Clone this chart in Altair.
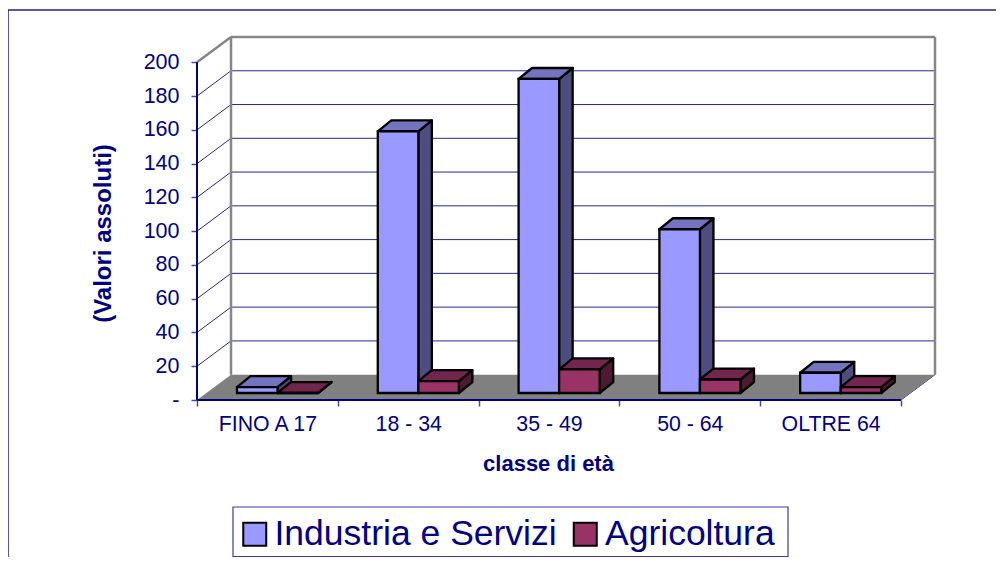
import altair as alt
import pandas as pd

categories = ["FINO A 17", "18 - 34", "35 - 49", "50 - 64", "OLTRE 64"]
series_names = ["Industria e Servizi", "Agricoltura"]
industria = [3.5, 155, 186, 97, 12]
agricoltura = [0, 7, 14, 8, 3.5]
y_ticks = list(range(0, 201, 20))

NAVY = "#000080"
FONT = "Liberation Sans"
GRAY = "#868686"
FRONT = {"Industria e Servizi": "#9999FF", "Agricoltura": "#993366"}
TOP = {"Industria e Servizi": "#7373C0", "Agricoltura": "#73264D"}
SIDE = {"Industria e Servizi": "#4D4D80", "Agricoltura": "#4D1A33"}

# Depth of the 3-D box, in axis units
WALL_DX, WALL_DY = 0.2415, 15.0
BAR_DX, BAR_DY = 0.096, 6.5
BASE_DY = 4.14
BAR_W = 0.288
BAR_X0 = 0.284

x_max = 5 + WALL_DX
y_max = 200 + WALL_DY
xs = alt.Scale(domain=[0, x_max], nice=False, zero=False)
ys = alt.Scale(domain=[0, y_max], nice=False, zero=False)

front_rows, top_rows, side_rows = [], [], []
for s, (name, vals) in enumerate(zip(series_names, [industria, agricoltura])):
    for i, v in enumerate(vals):
        x0 = i + BAR_X0 + s * BAR_W
        x1 = x0 + BAR_W
        top = BASE_DY + v
        front_rows.append(dict(series=name, x=x0, x2=x1, y=BASE_DY, y2=top))
        fid = f"{name}-{i}"
        top_rows += [
            dict(id=fid, fill=TOP[name], y=top, x=x0, x2=x1),
            dict(id=fid, fill=TOP[name], y=top + BAR_DY, x=x0 + BAR_DX, x2=x1 + BAR_DX),
        ]
        side_rows += [
            dict(id=fid, fill=SIDE[name], x=x1, y=BASE_DY, y2=top),
            dict(id=fid, fill=SIDE[name], x=x1 + BAR_DX, y=BASE_DY + BAR_DY, y2=top + BAR_DY),
        ]

grid_rows = []
for t in y_ticks[1:-1]:
    grid_rows.append(dict(x=0, x2=WALL_DX, y=t, y2=t + WALL_DY))
    grid_rows.append(dict(x=WALL_DX, x2=x_max, y=t + WALL_DY, y2=t + WALL_DY))
grid_rows.append(dict(x=5, x2=x_max, y=0, y2=WALL_DY))

wall_rows = [
    dict(x=0, x2=WALL_DX, y=200, y2=y_max),
    dict(x=WALL_DX, x2=x_max, y=y_max, y2=y_max),
    dict(x=WALL_DX, x2=WALL_DX, y=WALL_DY, y2=y_max),
    dict(x=x_max, x2=x_max, y=WALL_DY, y2=y_max),
]
front_axis_rows = [
    dict(x=0, x2=5, y=0, y2=0),
    dict(x=0, x2=0, y=0, y2=200),
]
floor_rows = [
    dict(y=0, x=0, x2=5),
    dict(y=WALL_DY, x=WALL_DX, x2=x_max),
]

x_ticks = [v / 2 for v in range(0, 11)]
label_expr = "datum.value % 1 === 0 ? '' : " + str(categories) + "[floor(datum.value)]"
x_axis = alt.Axis(
    values=x_ticks, labelExpr=label_expr, title="classe di età", grid=False, domain=False,
    tickColor="#4a4aa0", tickSize=6, tickWidth=1.5,
    tickOpacity={"condition": {"test": "datum.value % 1 === 0", "value": 1}, "value": 0},
    labelFont=FONT, labelFontSize=21.3, labelColor=NAVY, labelPadding=7, labelOverlap=False,
    labelFlush=False,
    titleFont=FONT, titleFontSize=22, titleFontWeight="bold", titleColor=NAVY,
    titleX=351, titleY=70, titleBaseline="alphabetic",
)
y_axis = alt.Axis(
    values=y_ticks, labelExpr="datum.value === 0 ? '-' : datum.label", title="(Valori assoluti)",
    grid=False, domain=False, tickColor="#4a4aa0", tickSize=6, tickWidth=1.5,
    labelFont=FONT, labelFontSize=21.5, labelColor=NAVY, labelPadding=12,
    titleFont=FONT, titleFontSize=24, titleFontWeight="bold", titleColor=NAVY,
    titleX=-87, titleY=196, titleAngle=270, titleBaseline="alphabetic",
)


def X(**kw):
    return alt.X("x:Q", scale=xs, axis=x_axis, **kw)


def Y(**kw):
    return alt.Y("y:Q", scale=ys, axis=y_axis, **kw)


def rules(rows, color, width, opacity=1):
    return alt.Chart(pd.DataFrame(rows)).mark_rule(color=color, strokeWidth=width, opacity=opacity).encode(
        x=X(), x2="x2:Q", y=Y(), y2="y2:Q",
    )


grid = rules(grid_rows, NAVY, 1, 0.85)
walls = rules(wall_rows, GRAY, 2.5)
front_axes = rules(front_axis_rows, NAVY, 2)

floor = alt.Chart(pd.DataFrame(floor_rows)).mark_area(color="#808080", orient="horizontal").encode(
    x=X(stack=None), x2="x2:Q", y=Y(),
)

side = alt.Chart(pd.DataFrame(side_rows)).mark_area(stroke="black", strokeWidth=2.3, strokeJoin="round").encode(
    x=X(), y=Y(stack=None), y2="y2:Q",
    color=alt.Color("fill:N", scale=None, legend=None),
    detail="id:N",
)

top = alt.Chart(pd.DataFrame(top_rows)).mark_area(stroke="black", strokeWidth=2.3, strokeJoin="round", orient="horizontal").encode(
    x=X(stack=None), x2="x2:Q", y=Y(),
    color=alt.Color("fill:N", scale=None, legend=None),
    detail="id:N",
)

front = alt.Chart(pd.DataFrame(front_rows)).mark_rect(stroke="black", strokeWidth=2.3).encode(
    x=X(), x2="x2:Q", y=Y(), y2="y2:Q",
    fill=alt.Fill("series:N", sort=series_names,
                  scale=alt.Scale(domain=series_names, range=[FRONT[n] for n in series_names]),
                  legend=alt.Legend(
                      title=None, orient="none", direction="horizontal", legendX=40, legendY=479,
                      symbolType="square", symbolSize=529, symbolStrokeColor="black",
                      symbolStrokeWidth=2, symbolOpacity=1,
                      labelFont=FONT, labelFontSize=35.5, labelColor=NAVY, labelOffset=2,
                      labelLimit=400, columnPadding=10.5, padding=0,
                  )),
)

LINE = "#20208f"
border = alt.Chart(pd.DataFrame({"k": [0]})).mark_rule(color=LINE, strokeWidth=1.5).encode(
    x=alt.value(-189), x2=alt.value(830), y=alt.value(-27), y2=alt.value(-27),
)
border_left = alt.Chart(pd.DataFrame({"k": [0]})).mark_rule(color=LINE, strokeWidth=1.5).encode(
    x=alt.value(-189), x2=alt.value(-189), y=alt.value(-27), y2=alt.value(520),
)
legend_frame = alt.Chart(pd.DataFrame({"k": [0]})).mark_rect(
    fill="white", stroke="#3a3aa0", strokeWidth=1.2
).encode(x=alt.value(36), x2=alt.value(591), y=alt.value(470), y2=alt.value(519.5))

chart = alt.layer(
    border, border_left, grid, walls, floor, front_axes, side, top, front, legend_frame,
).properties(
    width=738, height=363,
    padding={"left": 189, "top": 29, "right": 61, "bottom": 157},
    autosize="none", background="white",
).configure_view(stroke=None)

chart.save("out.html", embed_options={"renderer": "svg", "actions": False})
